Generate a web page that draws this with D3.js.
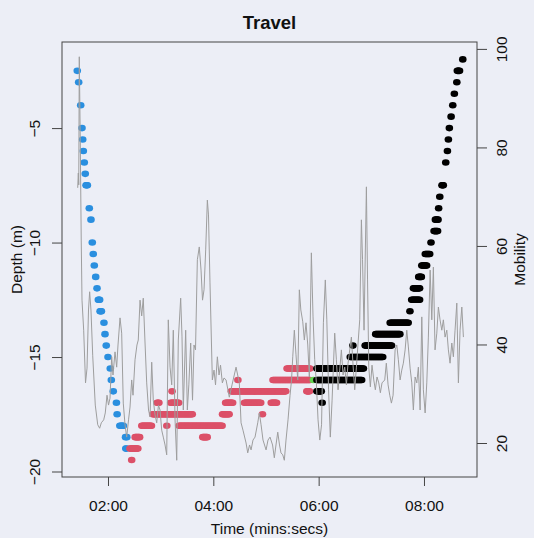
<!DOCTYPE html>
<html><head><meta charset="utf-8">
<script src="https://cdn.jsdelivr.net/npm/d3@7"></script>
<style>
html,body{margin:0;padding:0;background:#eceef6;}
svg{display:block;}
text{font-family:"Liberation Sans",Arial,Helvetica,sans-serif;fill:#111;}
</style></head><body>
<svg id="chart" width="534" height="538"></svg>
<script>
// ---------- labels & ticks ----------
const chartTitle = "Travel";
const xLabel = "Time (mins:secs)";
const yLabelLeft = "Depth (m)";
const yLabelRight = "Mobility";
const timeTicks = [120, 240, 360, 480];          // seconds -> 02:00 ... 08:00
const depthTicks = [-20, -15, -10, -5];
const mobilityTicks = [20, 40, 60, 80, 100];
const timeLimits = [67.6, 540.4];
const depthLimits = [-20.24, -1.24];
const mobilityLimits = [13.1, 101.4];

// ---------- depth record: runs of dots [start s, end s, depth m] (one dot per second) ----------
const descentRuns = [[85,85,-2.5],[86.6,86.6,-3],[88.9,88.9,-4],[90.4,90.4,-5],[91.2,91.2,-5.5],[91.9,91.9,-6],
  [93,93,-6.5],[94.1,94.1,-7],[95,96.5,-7.5],[98.7,98.7,-8.5],[100.6,100.6,-9],[102.1,102.1,-10],[103.2,103.2,-10.5],
  [104.4,104.4,-11],[106,106,-11.5],[107.5,107.5,-12],[109,110.5,-12.5],[111,112.5,-13],[115.4,115.4,-13.5],
  [116.6,116.6,-14],[118,118,-14.5],[120,120,-15],[122.6,122.6,-15.5],[123.8,123.8,-16],[126,126,-16.5],
  [129.6,129.6,-17],[130.4,130.4,-17.5],[133.5,137.5,-18],[140,141.4,-18.5],[140.3,141,-19]];
const bottomRuns = [[145,154,-19],[147,147,-19.5],[151,156,-18.5],[158.5,169.5,-18],[171,216,-17.5],[176,178,-17],
  [187,187,-18],[191.5,200.5,-17],[193,193,-16.5],[201,250,-18],[228,233,-18.5],[250.5,258,-17.5],[254,262,-17],
  [260.5,322.5,-16.5],[268,268,-16],[275.5,294,-17],[296,296,-17.5],[306,312,-17],[308,350,-16],[324,350,-15.5],
  [346.5,349.5,-16.5]];
const markerRuns = [[354,354,-16]];
const ascentRuns = [[358,411,-15.5],[358,409,-16],[358,363,-16.5],[364,364,-17],[396,433,-15],[399,399,-14.5],
  [413,443,-14.5],[425,452.5,-14],[441.5,462,-13.5],[464,464,-13],[466,475,-12.5],[468,475,-12],[474,477,-11.5],
  [477.5,483,-11],[481.5,486.5,-10.5],[488,488,-10],[491.5,495.5,-9.5],[493,496,-9],[496.7,496.7,-8.5],[498,498,-8],
  [500.5,502,-7.5],[504.8,504.8,-6.5],[506.7,506.7,-6],[507.8,507.8,-5.5],[508.9,508.9,-5],[510.9,510.9,-4.5],
  [512.8,512.8,-4],[514.6,514.6,-3.5],[517.4,517.4,-3],[518,520.5,-2.5],[524.2,524.2,-2]];

// ---------- mobility trace ----------
const mobilityTime = [85.5,86.2,86.7,87.3,88.4,89.5,90.4,92.3,94.4,96.1,97.8,99.1,100.6,102.6,105.5,108.3,110.5,112.4,115.1,116.9,
  118.9,120.6,122.3,124.2,125.7,128.0,129.9,131.4,133.7,135.6,137.4,139.4,141.3,143.4,145.1,147.0,148.5,150.8,153.0,154.5,
  156.5,158.4,160.2,162.2,164.1,166.2,167.9,169.8,171.6,173.6,175.5,177.5,179.3,181.2,183.0,185.0,186.9,188.7,190.7,192.6,
  194.4,196.4,198.3,200.1,202.8,204.3,205.8,208.5,210.4,212.1,214.2,216.3,218.0,219.7,221.8,224.0,226.0,227.7,229.4,231.3,
  233.2,234.5,236.2,238.9,240.8,242.5,244.6,246.5,248.2,250.3,252.2,254.5,
  258.2,261.3,265.9,269.6,271.6,273.8,277.3,279.2,281.3,283.0,285.2,287.5,290.6,292.4,294.4,296.6,300.1,302.3,304.6,307.5,
  309.5,311.4,313.4,315.4,317.1,319.1,320.9,322.8,325.1,327.4,329.1,330.5,332.3,334.2,336.2,338.0,339.7,341.9,343.7,345.6,
  347.6,349.4,
  351.7,353.6,355.5,357.4,359.3,361.3,363.3,365.4,367.6,369.3,371.3,373.3,375.3,378.3,380.2,382.1,384.0,385.9,387.8,389.7,
  391.6,393.5,395.4,397.3,399.2,401.1,403.0,404.9,406.8,408.7,410.0,411.7,414.4,415.7,417.1,418.9,420.8,422.8,424.6,426.5,
  428.5,430.3,432.2,435.3,437.1,439.1,441.0,442.9,
  444.8,447.1,449.0,450.8,452.8,454.7,456.5,458.5,460.4,462.2,464.2,466.1,467.9,469.9,471.8,473.6,475.6,477.5,479.3,481.3,
  483.2,485.0,487.0,488.9,490.7,492.6,494.6,496.4,498.3,500.3,502.1,504.0,506.0,507.8,509.7,511.7,513.5,515.4,517.4,519.2,
  521.1,523.1,524.9];
const mobilityValue = [71.8,74.8,72.4,98.4,81.5,61.2,49.0,42.9,32.2,35.2,47.0,50.7,47.0,37.7,27.7,23.7,23.0,24.1,24.7,26.1,
  29.7,27.7,29.1,37.5,33.8,38.5,35.4,39.9,45.4,42.3,28.1,23.7,21.2,24.7,27.3,32.8,29.7,36.9,39.9,40.9,
  49.0,45.8,49.4,40.3,32.2,26.7,25.3,36.4,28.7,25.7,24.1,27.7,26.7,22.6,21.2,19.6,17.6,45.0,35.4,31.8,
  42.9,24.7,16.5,40.9,49.4,41.7,26.7,42.9,26.7,31.8,40.3,28.7,39.9,38.9,57.2,59.8,55.1,49.0,51.1,59.2,
  69.3,66.3,52.5,32.8,34.8,31.8,37.5,33.8,35.8,32.2,33.2,32.8,
  29.3,31.8,35.4,32.2,24.1,22.6,20.0,18.0,19.6,18.6,20.6,21.2,24.1,26.1,23.7,20.6,18.6,20.6,21.2,19.6,
  17.0,19.6,22.2,19.6,18.0,17.6,16.5,20.6,24.7,29.7,32.8,37.5,42.9,37.9,32.8,51.1,47.0,44.6,40.9,44.4,
  39.9,33.4,
  58.6,45.6,36.9,32.2,24.7,20.6,23.7,44.4,53.1,45.0,30.8,21.2,28.7,42.3,36.9,30.8,34.8,38.9,33.8,35.4,
  31.8,36.2,38.9,41.5,35.8,30.8,35.4,40.3,45.0,65.3,57.2,42.9,72.0,53.1,35.4,31.4,35.8,32.8,30.8,33.4,
  32.2,30.2,32.2,32.8,36.2,31.8,29.7,28.1,
  29.7,38.9,39.9,36.9,32.8,34.8,36.2,38.9,42.9,39.5,35.2,32.2,26.7,33.4,32.2,35.4,26.7,45.6,30.8,26.1,
  32.2,41.5,55.1,45.0,55.7,38.9,42.3,47.6,45.0,42.9,45.0,41.5,42.9,38.9,36.2,40.3,37.5,42.9,48.4,32.2,
  42.9,47.6,41.5];

// ---------- layout ----------
const W = 534, H = 538;
const box = {left: 62, right: 477, top: 42, bottom: 477};
const phaseColors = {descent: "#2a8fdf", bottom: "#dc5068", marker: "#61d04f", ascent: "#000000"};

const svg = d3.select("#chart");
svg.append("rect").attr("width", W).attr("height", H).attr("fill", "#eceef6");

const x = d3.scaleLinear().domain(timeLimits).range([box.left, box.right]);
const yD = d3.scaleLinear().domain(depthLimits).range([box.bottom, box.top]);
const yM = d3.scaleLinear().domain(mobilityLimits).range([box.bottom, box.top]);

function expand(runs) {
  const pts = [];
  runs.forEach(([s, e, d]) => {
    const n = Math.max(1, Math.round(e - s) + 1);
    for (let i = 0; i < n; i++) pts.push({t: n === 1 ? s : s + i * (e - s) / (n - 1), d});
  });
  return pts;
}

const plot = svg.append("g");
[["descent", descentRuns], ["bottom", bottomRuns], ["marker", markerRuns], ["ascent", ascentRuns]].forEach(([k, runs]) => {
  plot.append("g").selectAll("ellipse").data(expand(runs)).join("ellipse")
    .attr("cx", p => x(p.t)).attr("cy", p => yD(p.d))
    .attr("rx", 3.8).attr("ry", 3.3).attr("fill", phaseColors[k]);
});

const line = d3.line().x(d => x(d[0])).y(d => yM(d[1]));
plot.append("path").datum(d3.zip(mobilityTime, mobilityValue))
  .attr("d", line).attr("fill", "none").attr("stroke", "#9e9e9e").attr("stroke-width", 1);

// box
svg.append("rect").attr("x", box.left).attr("y", box.top)
  .attr("width", box.right - box.left).attr("height", box.bottom - box.top)
  .attr("fill", "none").attr("stroke", "#444").attr("stroke-width", 1);

const fmt = s => d3.format("02d")(Math.floor(s / 60)) + ":" + d3.format("02d")(s % 60);
const fs = 15.5;

// bottom axis
const gx = svg.append("g").attr("transform", `translate(0,${box.bottom})`)
  .call(d3.axisBottom(x).tickValues(timeTicks).tickFormat(fmt).tickSize(9));
gx.select(".domain").remove();
gx.selectAll("line").attr("stroke", "#444");
gx.selectAll("text").attr("y", 34).attr("dy", 0).attr("font-size", fs).attr("fill", "#111");

// left axis
const gl = svg.append("g").attr("transform", `translate(${box.left},0)`)
  .call(d3.axisLeft(yD).tickValues(depthTicks).tickFormat(d3.format("d")).tickSize(10));
gl.select(".domain").remove();
gl.selectAll("line").attr("stroke", "#444");
gl.selectAll("text").attr("transform", "rotate(-90)").attr("x", 0).attr("y", -22).attr("dy", 0)
  .attr("text-anchor", "middle").attr("font-size", fs).attr("fill", "#111");

// right axis
const gr = svg.append("g").attr("transform", `translate(${box.right},0)`)
  .call(d3.axisRight(yM).tickValues(mobilityTicks).tickFormat(d3.format("d")).tickSize(10));
gr.select(".domain").remove();
gr.selectAll("line").attr("stroke", "#444");
gr.selectAll("text").attr("transform", "rotate(-90)").attr("x", 0).attr("y", 30).attr("dy", 0)
  .attr("text-anchor", "middle").attr("font-size", fs).attr("fill", "#111");

const cx = (box.left + box.right) / 2, cy = (box.top + box.bottom) / 2;
svg.append("text").attr("x", cx).attr("y", 29).attr("text-anchor", "middle")
  .attr("font-size", 18.5).attr("font-weight", "bold").text(chartTitle);
svg.append("text").attr("x", cx).attr("y", 534).attr("text-anchor", "middle")
  .attr("font-size", fs).text(xLabel);
svg.append("text").attr("transform", `translate(22,${cy}) rotate(-90)`).attr("text-anchor", "middle")
  .attr("font-size", fs).text(yLabelLeft);
svg.append("text").attr("transform", `translate(525,${cy}) rotate(-90)`).attr("text-anchor", "middle")
  .attr("font-size", fs).text(yLabelRight);
</script>
</body></html>
